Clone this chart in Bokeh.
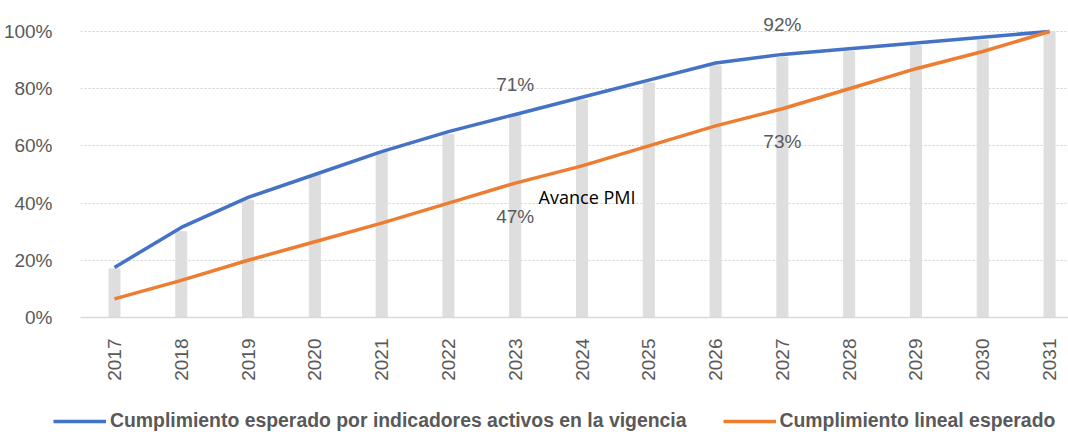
from bokeh.plotting import figure
from bokeh.layouts import column, row
from bokeh.models import (ColumnDataSource, Legend, LegendItem, Label,
                          NumeralTickFormatter, FixedTicker, Range1d)
from bokeh.embed import file_html
from bokeh.resources import INLINE

years = [2017, 2018, 2019, 2020, 2021, 2022, 2023, 2024, 2025, 2026, 2027, 2028, 2029, 2030, 2031]
cumpl_activos = [17.5, 31.5, 42, 50, 58, 65, 71, 77, 83, 89, 92, 94, 96, 98, 100]
cumpl_lineal = [6.5, 13, 20, 26.5, 33, 40, 47, 53, 60, 67, 73, 80, 87, 93, 100]
avance_pmi = [17, 30, 41, 50, 58, 64, 71, 76, 82, 88, 91, 93, 95, 97, 100]
y_ticks = [0, 20, 40, 60, 80, 100]
label_idx = [6, 10]

name_activos = "Cumplimiento esperado por indicadores activos en la vigencia"
name_lineal = "Cumplimiento lineal esperado"

FONT = "Liberation Sans"
GRAY = "#595959"
BLUE = "#4472C4"
ORANGE = "#ED7D31"

src = ColumnDataSource(dict(year=years, a=[v / 100 for v in cumpl_activos],
                            l=[v / 100 for v in cumpl_lineal],
                            bar=[v / 100 for v in avance_pmi]))

p = figure(width=1068, height=395, output_backend="svg", toolbar_location=None,
           x_range=Range1d(2016.491, 2031.284), y_range=Range1d(0, 1.1084),
           min_border_left=80, min_border_right=0, min_border_top=0,
           min_border_bottom=78)
p.outline_line_color = None
p.background_fill_color = "white"

p.vbar(x="year", top="bar", width=0.165, source=src, color="#dedede")
r_a = p.line("year", "a", source=src, line_color=BLUE, line_width=3.5, line_join="round")
r_l = p.line("year", "l", source=src, line_color=ORANGE, line_width=3.5, line_join="round")

# axes
p.xgrid.grid_line_color = None
p.ygrid.grid_line_color = "#d0d0d0"
p.ygrid.grid_line_dash = "2 2"
p.ygrid.grid_line_width = 1.2
p.yaxis.ticker = FixedTicker(ticks=[t / 100 for t in y_ticks])
p.yaxis.formatter = NumeralTickFormatter(format="0%")
p.yaxis.axis_line_color = None
p.yaxis.major_tick_line_color = None
p.yaxis.minor_tick_line_color = None
p.yaxis.major_label_standoff = 22
p.yaxis.major_label_text_font = FONT
p.yaxis.major_label_text_font_size = "19px"
p.yaxis.major_label_text_color = GRAY

p.xaxis.ticker = FixedTicker(ticks=years)
p.xaxis.major_label_orientation = 3.14159265 / 2
p.xaxis.axis_line_color = "#d9d9d9"
p.xaxis.axis_line_width = 1.5
p.xaxis.major_tick_line_color = None
p.xaxis.minor_tick_line_color = None
p.xaxis.major_label_standoff = 15
p.xaxis.major_label_text_font = FONT
p.xaxis.major_label_text_font_size = "19px"
p.xaxis.major_label_text_color = GRAY

# value labels
for i in label_idx:
    p.add_layout(Label(x=years[i], y=cumpl_activos[i] / 100, text=f"{round(cumpl_activos[i])}%",
                       text_align="center", text_baseline="middle", y_offset=30,
                       text_font=FONT, text_font_size="19px", text_color=GRAY))
    p.add_layout(Label(x=years[i], y=cumpl_lineal[i] / 100, text=f"{round(cumpl_lineal[i])}%",
                       text_align="center", text_baseline="middle", y_offset=-33,
                       text_font=FONT, text_font_size="19px", text_color=GRAY))

p.add_layout(Label(x=2023.35, y=0.42, text="Avance  PMI", text_align="left",
                   text_baseline="middle", text_font="Open Sans", text_font_size="18px",
                   text_color="black"))

# legend strip (separate small figure so the legend is not clipped)
lg = figure(width=1068, height=37, output_backend="svg", toolbar_location=None,
            x_range=Range1d(0, 1068), y_range=Range1d(0, 37),
            min_border=0, min_border_left=0, min_border_right=0,
            min_border_top=0, min_border_bottom=0,
            x_axis_type=None, y_axis_type=None)
lg.outline_line_color = None
lg.grid.grid_line_color = None
la = lg.line(x=[-50, -40], y=[-50, -50], line_color=BLUE, line_width=3.5)
ll = lg.line(x=[-50, -40], y=[-50, -50], line_color=ORANGE, line_width=3.5)
legend = Legend(items=[LegendItem(label=name_activos, renderers=[la]),
                       LegendItem(label=name_lineal, renderers=[ll])],
                orientation="horizontal", location=(53, 0),
                padding=0, margin=0, spacing=36, label_standoff=4,
                glyph_width=53, glyph_height=20, label_height=20,
                border_line_color=None, background_fill_alpha=0,
                label_text_font=FONT, label_text_font_style="bold",
                label_text_font_size="19.4px", label_text_color=GRAY)
lg.add_layout(legend, "center")

layout = column(p, row(lg, spacing=0), spacing=0)
open("out.html", "w").write(file_html(layout, INLINE))
